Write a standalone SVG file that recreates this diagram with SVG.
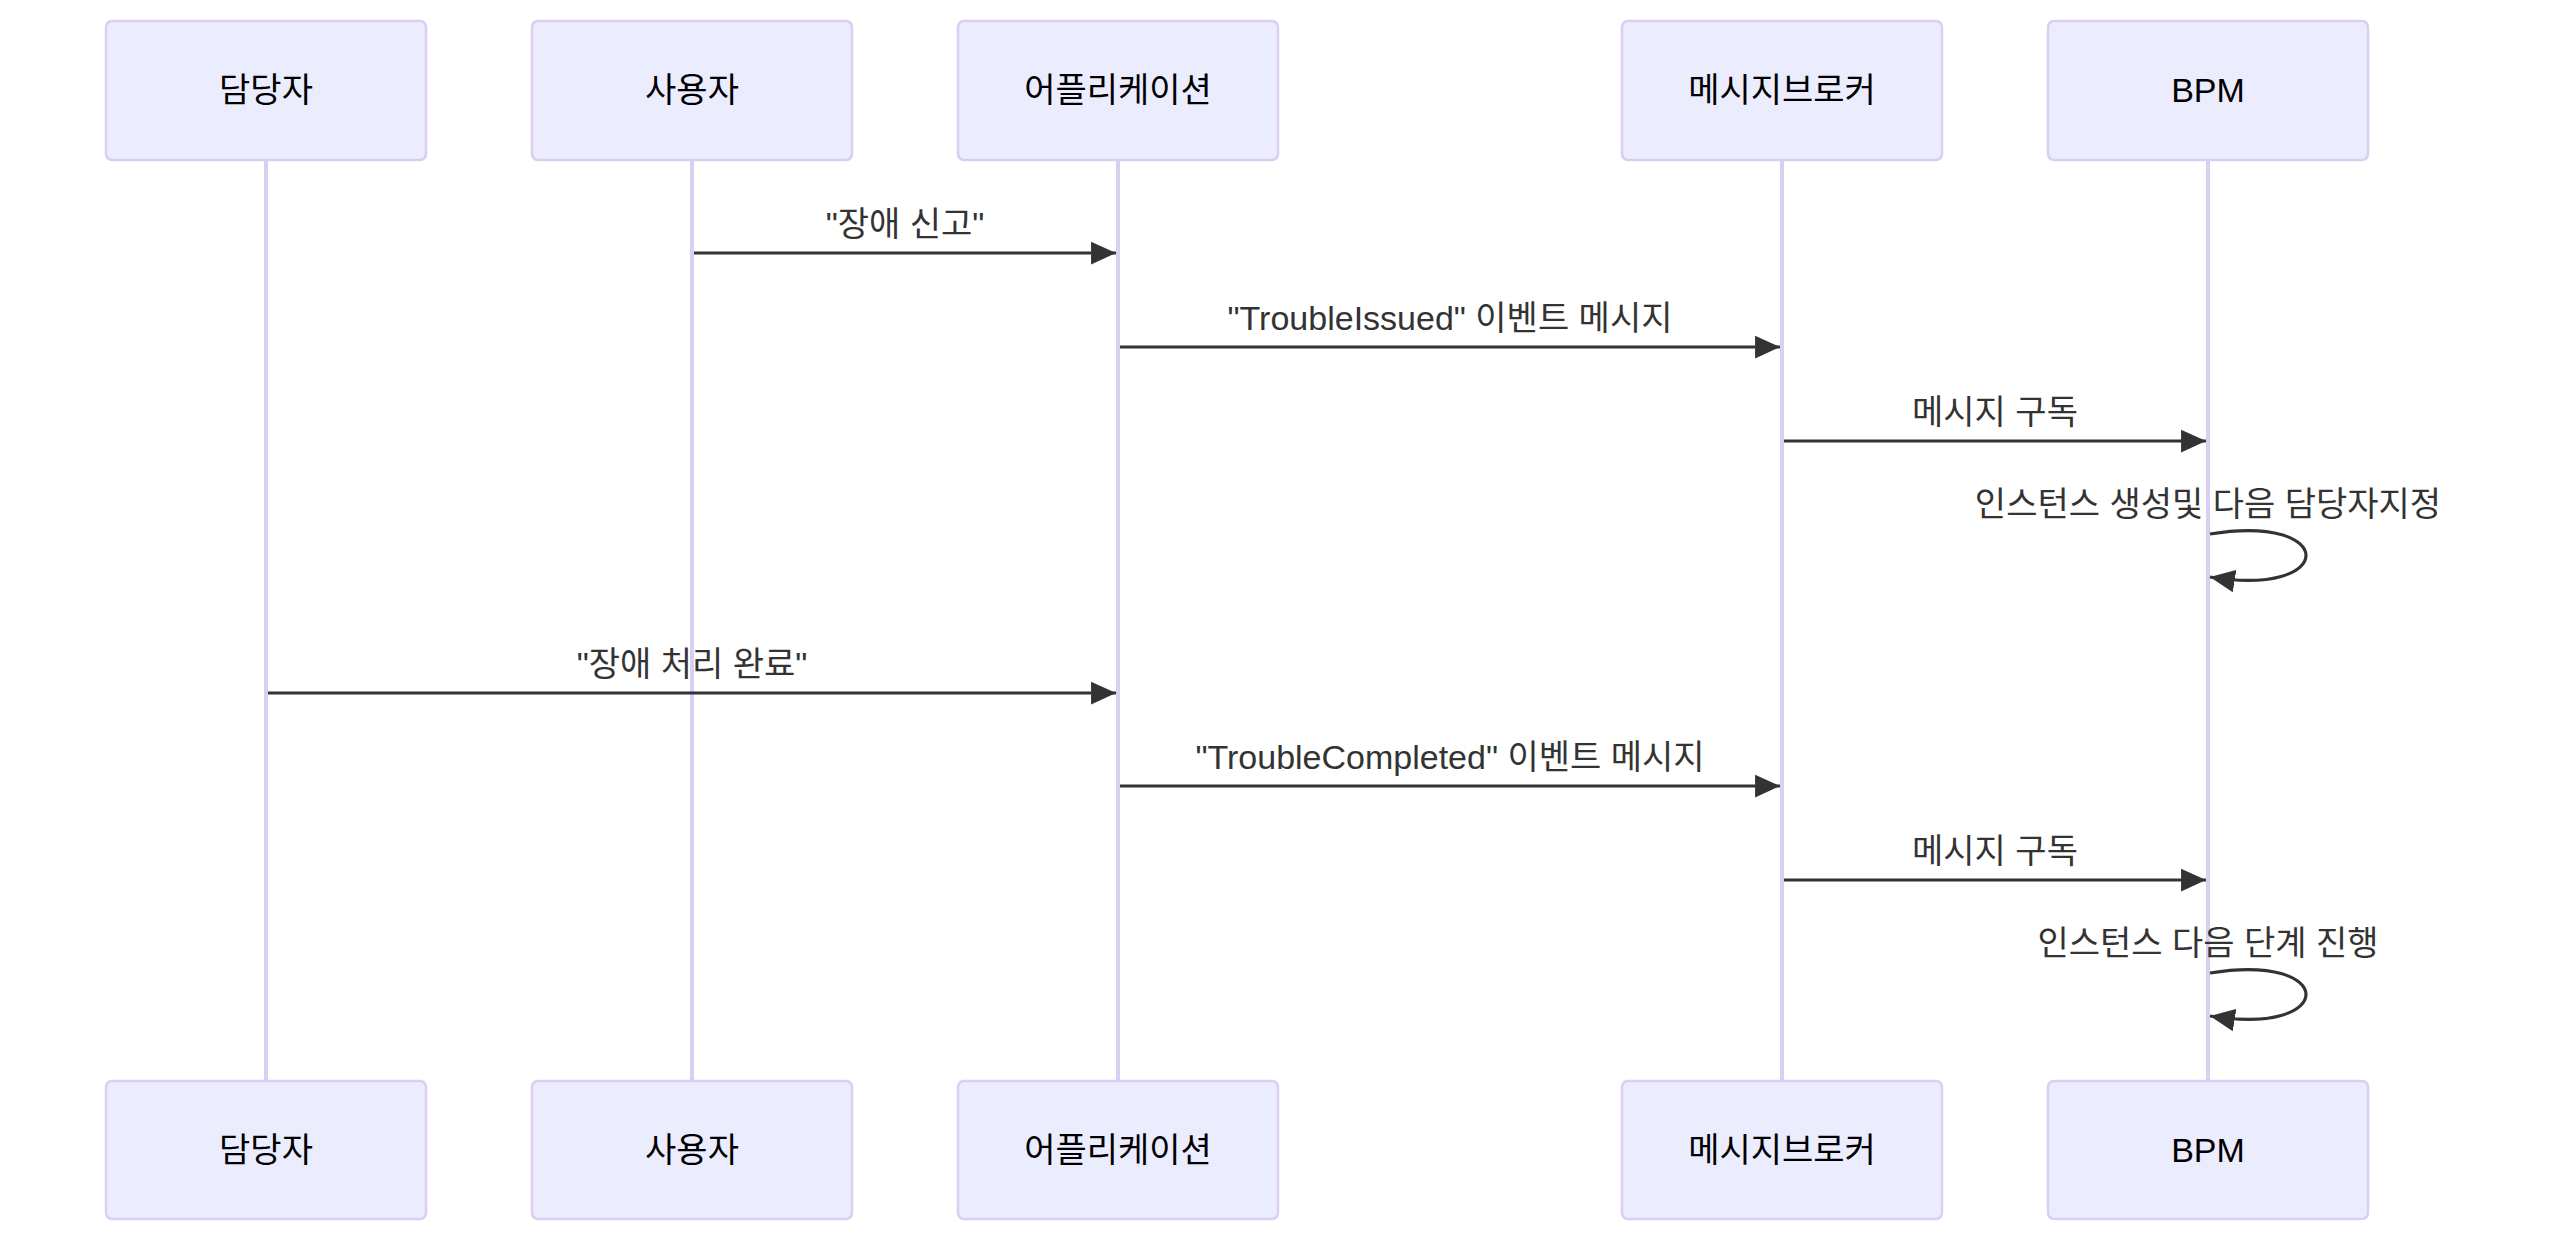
<svg xmlns="http://www.w3.org/2000/svg" width="2560" height="1245" viewBox="0 0 2560 1245">
<style>
.actor{fill:#ECECFF;stroke:#DACEF3;stroke-width:2.5}
.alabel{font-family:"Liberation Sans","Noto Sans CJK KR",sans-serif;font-size:34px;fill:#000;text-anchor:middle}
.life{stroke:#DACEF3;stroke-width:4}
.msg{stroke:#333;stroke-width:3.2;fill:none}
.mlabel{font-family:"Liberation Sans","Noto Sans CJK KR",sans-serif;font-size:34px;fill:#333;text-anchor:middle}
</style>
<defs>
<marker id="arrow" markerUnits="userSpaceOnUse" markerWidth="26" markerHeight="24" refX="23" refY="10.5" orient="auto" viewBox="0 0 24 21">
<path d="M0,0 L23,10.5 L0,21 z" fill="#333"/>
</marker>
</defs>
<rect width="2560" height="1245" fill="#fff"/>
<g id="lifelines">
<line class="life" x1="266" y1="160" x2="266" y2="1081"/>
<line class="life" x1="692" y1="160" x2="692" y2="1081"/>
<line class="life" x1="1118" y1="160" x2="1118" y2="1081"/>
<line class="life" x1="1782" y1="160" x2="1782" y2="1081"/>
<line class="life" x1="2208" y1="160" x2="2208" y2="1081"/>
</g>
<g id="actor-damdang">
<rect class="actor" x="106" y="21" width="320" height="139" rx="6"/>
<text class="alabel" x="266" y="102">담당자</text>
<rect class="actor" x="106" y="1081" width="320" height="138" rx="6"/>
<text class="alabel" x="266" y="1162">담당자</text>
</g>
<g id="actor-user">
<rect class="actor" x="532" y="21" width="320" height="139" rx="6"/>
<text class="alabel" x="692" y="102">사용자</text>
<rect class="actor" x="532" y="1081" width="320" height="138" rx="6"/>
<text class="alabel" x="692" y="1162">사용자</text>
</g>
<g id="actor-app">
<rect class="actor" x="958" y="21" width="320" height="139" rx="6"/>
<text class="alabel" x="1118" y="102">어플리케이션</text>
<rect class="actor" x="958" y="1081" width="320" height="138" rx="6"/>
<text class="alabel" x="1118" y="1162">어플리케이션</text>
</g>
<g id="actor-broker">
<rect class="actor" x="1622" y="21" width="320" height="139" rx="6"/>
<text class="alabel" x="1782" y="102">메시지브로커</text>
<rect class="actor" x="1622" y="1081" width="320" height="138" rx="6"/>
<text class="alabel" x="1782" y="1162">메시지브로커</text>
</g>
<g id="actor-bpm">
<rect class="actor" x="2048" y="21" width="320" height="139" rx="6"/>
<text class="alabel" x="2208" y="102">BPM</text>
<rect class="actor" x="2048" y="1081" width="320" height="138" rx="6"/>
<text class="alabel" x="2208" y="1162">BPM</text>
</g>
<g id="connectors">
<line class="msg" x1="694" y1="253" x2="1116" y2="253" marker-end="url(#arrow)"/>
<line class="msg" x1="1120" y1="347" x2="1780" y2="347" marker-end="url(#arrow)"/>
<line class="msg" x1="1784" y1="441" x2="2206" y2="441" marker-end="url(#arrow)"/>
<path class="msg" d="M2210,534 C2338,513 2338,598 2210,577" marker-end="url(#arrow)"/>
<line class="msg" x1="268" y1="693" x2="1116" y2="693" marker-end="url(#arrow)"/>
<line class="msg" x1="1120" y1="786" x2="1780" y2="786" marker-end="url(#arrow)"/>
<line class="msg" x1="1784" y1="880" x2="2206" y2="880" marker-end="url(#arrow)"/>
<path class="msg" d="M2210,973 C2338,952 2338,1037 2210,1016" marker-end="url(#arrow)"/>
</g>
<g id="labels">
<text class="mlabel" x="905" y="236">"장애 신고"</text>
<text class="mlabel" x="1450" y="330">"TroubleIssued" 이벤트 메시지</text>
<text class="mlabel" x="1995" y="424">메시지 구독</text>
<text class="mlabel" x="2208" y="516">인스턴스 생성및 다음 담당자지정</text>
<text class="mlabel" x="692" y="676">"장애 처리 완료"</text>
<text class="mlabel" x="1450" y="769">"TroubleCompleted" 이벤트 메시지</text>
<text class="mlabel" x="1995" y="863">메시지 구독</text>
<text class="mlabel" x="2208" y="955">인스턴스 다음 단계 진행</text>
</g>
</svg>
